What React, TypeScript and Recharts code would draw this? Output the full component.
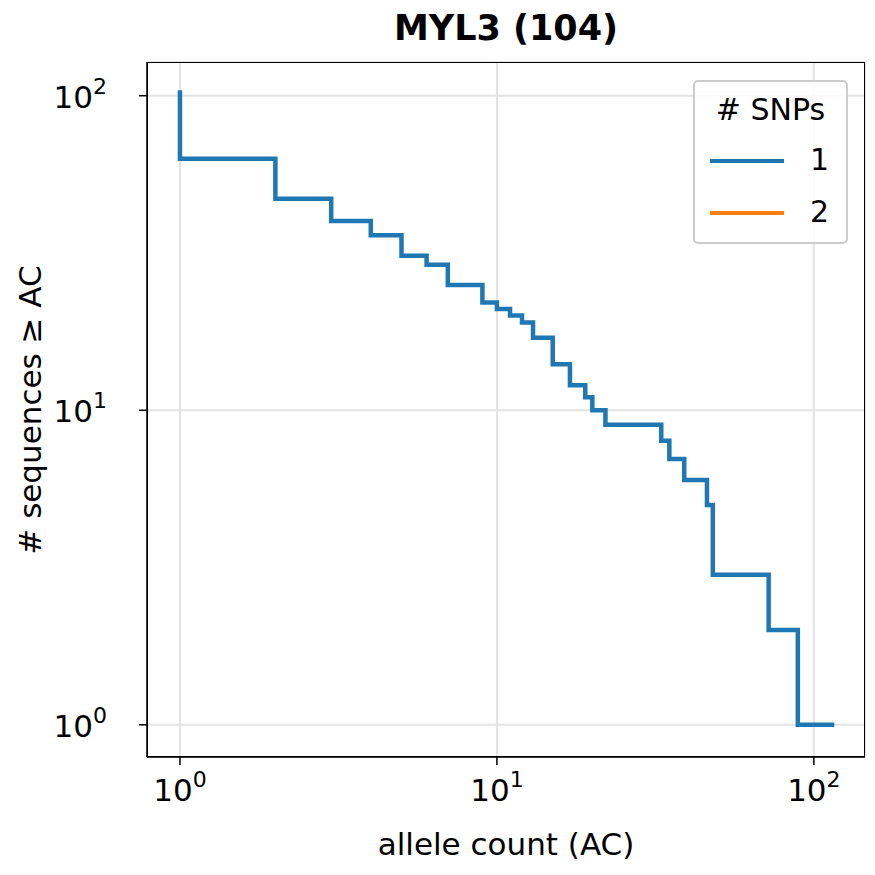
import React from 'react';
import { LineChart, Line, XAxis, YAxis, CartesianGrid } from 'recharts';

const acValues = [1, 2, 3, 4, 5, 6, 7, 9, 10, 11, 12, 13, 15, 17, 19, 20, 22, 33, 35, 39, 46, 48, 72, 89, 116];
const seqCounts = [104, 63, 47, 40, 36, 31, 29, 25, 22, 21, 20, 19, 17, 14, 12, 11, 10, 9, 8, 7, 6, 5, 3, 2, 1];
const majorTicks = [1, 10, 100];
const xMinor = [0.8, 0.9, 2, 3, 4, 5, 6, 7, 8, 9, 20, 30, 40, 50, 60, 70, 80, 90];
const yMinor = [0.8, 0.9, 2, 3, 4, 5, 6, 7, 8, 9, 20, 30, 40, 50, 60, 70, 80, 90];
const expLabels: Record<number, string> = { 1: '0', 10: '1', 100: '2' };

const data = acValues.map((ac, i) => ({ ac, n: seqCounts[i] }));
const FONT = 'DejaVu Sans';

const XTick = (p: any) => (
  <text x={p.x} y={p.y + 34} textAnchor="middle" fontSize={31} fontFamily={FONT} fill="#000">
    10<tspan dy={-14} fontSize={22}>{expLabels[p.payload.value]}</tspan>
  </text>
);
const YTick = (p: any) => (
  <text x={p.x - 30} y={p.y + 12} textAnchor="end" fontSize={31} fontFamily={FONT} fill="#000">
    10<tspan dy={-14} fontSize={22}>{expLabels[p.payload.value]}</tspan>
  </text>
);
const NoTick = () => <g />;

export default function App() {
  const xd = [0.787, 145];
  const yd = [0.79, 128];
  return (
    <div style={{ position: 'absolute', left: 0, top: 0, width: 875, height: 875, background: '#fff', fontFamily: FONT }}>
      <LineChart width={875} height={875} data={data} margin={{ top: 62, right: 10, bottom: 0, left: 0 }}>
        <CartesianGrid stroke="#e3e3e3" strokeWidth={2} />
        <XAxis dataKey="ac" type="number" scale="log" domain={xd} allowDataOverflow ticks={majorTicks}
          height={118} tick={<XTick />} tickSize={8} stroke="#000" strokeWidth={1.5} />
        <XAxis xAxisId="m" dataKey="ac" type="number" scale="log" domain={xd} allowDataOverflow ticks={xMinor}
          height={0} tick={<NoTick />} tickSize={5} stroke="#000" strokeWidth={1.2} axisLine={false} />
        <YAxis type="number" scale="log" domain={yd} allowDataOverflow ticks={majorTicks}
          width={147} tick={<YTick />} tickSize={8} stroke="#000" strokeWidth={1.5} />
        <YAxis yAxisId="m" type="number" scale="log" domain={yd} allowDataOverflow ticks={yMinor}
          width={0} tick={<NoTick />} tickSize={5} stroke="#000" strokeWidth={1.2} axisLine={false} />
        <Line dataKey="n" type="stepBefore" stroke="#1f77b4" strokeWidth={4.5} dot={false} isAnimationActive={false} />
      </LineChart>
      <div style={{ position: 'absolute', left: 147, top: 62, width: 718, height: 695, border: '1.5px solid #000', boxSizing: 'border-box', pointerEvents: 'none' }} />
      <div style={{ position: 'absolute', left: 147, width: 718, top: 8, textAlign: 'center', fontSize: 35, fontWeight: 'bold' }}>MYL3 (104)</div>
      <div style={{ position: 'absolute', left: 147, width: 718, top: 826, textAlign: 'center', fontSize: 31 }}>allele count (AC)</div>
      <div style={{ position: 'absolute', left: 30, top: 410, transform: 'translate(-50%,-50%) rotate(-90deg)', whiteSpace: 'nowrap', fontSize: 31 }}># sequences ≥ AC</div>
      <div style={{ position: 'absolute', left: 693, top: 80, width: 155, height: 164, border: '2px solid #ccc', borderRadius: 5, background: 'rgba(255,255,255,0.85)', boxSizing: 'border-box', fontSize: 30 }}>
        <div style={{ position: 'absolute', top: 10, left: 0, width: '100%', textAlign: 'center' }}># SNPs</div>
        <div style={{ position: 'absolute', top: 77, left: 15, width: 74, height: 4, background: '#1f77b4' }} />
        <div style={{ position: 'absolute', top: 60, left: 115 }}>1</div>
        <div style={{ position: 'absolute', top: 129, left: 15, width: 74, height: 4, background: '#ff7f0e' }} />
        <div style={{ position: 'absolute', top: 112, left: 115 }}>2</div>
      </div>
    </div>
  );
}
